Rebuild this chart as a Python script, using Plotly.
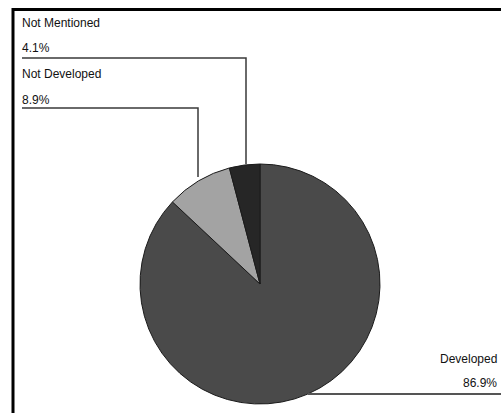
import plotly.graph_objects as go

# Data
categories = ["Developed", "Not Developed", "Not Mentioned"]
values = [86.9, 8.9, 4.1]
colors = ["#4a4a4a", "#a3a3a3", "#262626"]

W, H = 501, 413


def px(x):
    return x / W


def py(y):
    return 1 - y / H


fig = go.Figure()
fig.add_trace(go.Pie(
    labels=categories,
    values=values,
    sort=False,
    direction="clockwise",
    rotation=0,
    textinfo="none",
    hoverinfo="label+percent",
    marker=dict(colors=colors, line=dict(color="#1a1a1a", width=1)),
    domain=dict(x=[px(140), px(380)], y=[py(404), py(164)]),
    showlegend=False,
))

font = dict(family="Liberation Sans, Arial, sans-serif", size=12, color="#111111")
annotations = []
shapes = []

# label placement (pixel layout)
label_layout = {
    "Not Mentioned": dict(x=20, y_name=23, y_pct=48, anchor="left"),
    "Not Developed": dict(x=20, y_name=74, y_pct=100, anchor="left"),
    "Developed": dict(x=499, y_name=359, y_pct=383, anchor="right"),
}
for cat, val in zip(categories, values):
    L = label_layout[cat]
    annotations.append(dict(x=px(L["x"]), y=py(L["y_name"]), xref="paper", yref="paper",
                            text=cat, showarrow=False, xanchor=L["anchor"], yanchor="middle",
                            font=font))
    annotations.append(dict(x=px(L["x"]), y=py(L["y_pct"]), xref="paper", yref="paper",
                            text=f"{val:.1f}%", showarrow=False, xanchor=L["anchor"], yanchor="middle",
                            font=font))

line_style = dict(color="#3a3a3a", width=1.5)
# Not Mentioned leader
shapes.append(dict(type="path", xref="paper", yref="paper",
                   path=f"M {px(22)} {py(58)} L {px(246)} {py(58)} L {px(246)} {py(164)}",
                   line=line_style))
# Not Developed leader
shapes.append(dict(type="path", xref="paper", yref="paper",
                   path=f"M {px(22)} {py(108)} L {px(198)} {py(108)} L {px(198)} {py(177)}",
                   line=line_style))
# Developed leader
shapes.append(dict(type="line", xref="paper", yref="paper",
                   x0=px(308), y0=py(394), x1=px(501), y1=py(394),
                   line=dict(color="#555555", width=2)))

# scan frame (top and left edges)
shapes.append(dict(type="line", xref="paper", yref="paper",
                   x0=px(12), y0=py(9.5), x1=px(501), y1=py(9.5),
                   line=dict(color="#000000", width=3)))
shapes.append(dict(type="line", xref="paper", yref="paper",
                   x0=px(13), y0=py(8), x1=px(13), y1=py(413),
                   line=dict(color="#000000", width=3)))

fig.update_layout(
    width=W, height=H,
    margin=dict(l=0, r=0, t=0, b=0),
    paper_bgcolor="white",
    plot_bgcolor="white",
    annotations=annotations,
    shapes=shapes,
)

fig.write_html("out.html")
